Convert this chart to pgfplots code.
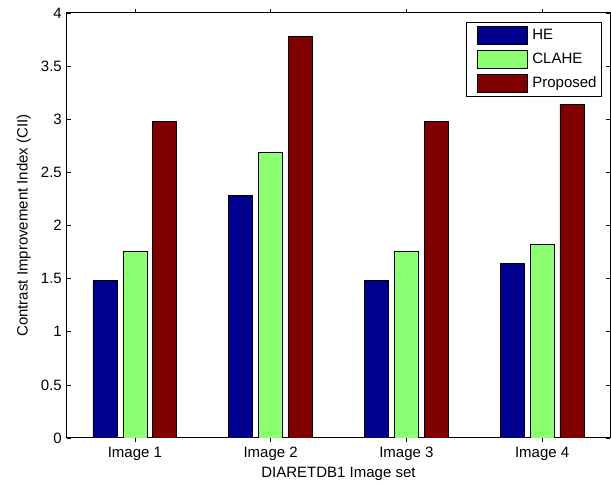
\documentclass[border=0pt]{standalone}
\usepackage{fontspec}
\setmainfont{Liberation Sans}
\usepackage{pgfplots}
\pgfplotsset{compat=1.18}
\definecolor{cHE}{RGB}{0,0,143}
\definecolor{cCL}{RGB}{140,255,115}
\definecolor{cPR}{RGB}{128,0,0}
\begin{document}
\fontsize{15pt}{18pt}\selectfont
\begin{tikzpicture}
\begin{axis}[
  name=ax,
  scale only axis,
  width=543pt, height=425pt,
  xmin=0.5, xmax=4.5,
  ymin=0, ymax=4,
  xtick={1,2,3,4},
  xticklabels={Image 1,Image 2,Image 3,Image 4},
  ytick={0,0.5,1,1.5,2,2.5,3,3.5,4},
  tick align=inside,
  major tick length=4pt,
  tick style={black, line width=0.6pt},
  axis line style={black, line width=1pt},
  /pgf/number format/assume math mode=true,
  ticklabel style={font=\fontsize{15pt}{18pt}\selectfont},
  label style={font=\fontsize{15pt}{18pt}\selectfont},
  xlabel={DIARETDB1 Image set},
  ylabel={Contrast Improvement Index (CII)},
  xlabel style={yshift=4pt},
  ylabel style={yshift=0pt},
  ybar,
  bar width=0.177,
  legend style={at={(rel axis cs:1,1)}, anchor=north east, xshift=-8pt, yshift=-9pt,
    draw=black, line width=0.8pt, font=\fontsize{15pt}{18pt}\selectfont,
    row sep=5pt, inner xsep=3pt, inner ysep=4pt, cells={anchor=west}},
  legend image code/.code={\path (-7pt,0pt); \draw[#1, line width=0.6pt] (0pt,-9pt) rectangle (50pt,9pt); \path (53pt,0pt);},
]
\addplot[fill=cHE, draw=black, line width=0.6pt, bar shift=-0.22] coordinates {(1,1.48) (2,2.28) (3,1.48) (4,1.64)};
\addplot[fill=cCL, draw=black, line width=0.6pt, bar shift=0] coordinates {(1,1.76) (2,2.69) (3,1.76) (4,1.82)};
\addplot[fill=cPR, draw=black, line width=0.6pt, bar shift=0.22] coordinates {(1,2.98) (2,3.78) (3,2.98) (4,3.14)};
\legend{HE,CLAHE,Proposed}
\end{axis}
\pgfresetboundingbox
\path (ax.south west) ++(-67pt,-48pt) coordinate (bl);
\path (ax.north east) ++(1pt,13pt) coordinate (tr);
\path (bl) rectangle (tr);
\end{tikzpicture}
\end{document}
